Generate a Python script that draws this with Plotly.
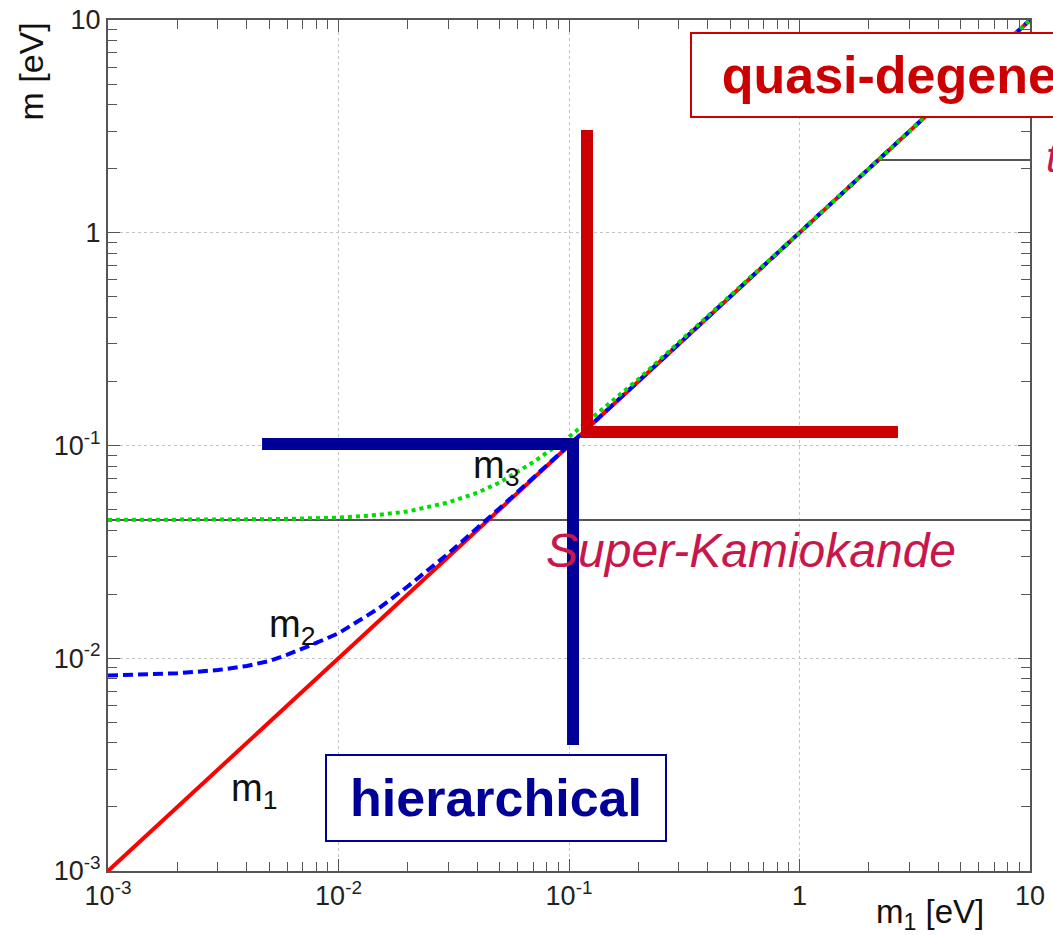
import plotly.graph_objects as go

# Neutrino mass eigenvalues versus the lightest mass m1 (normal ordering)
m1_x = [0.001, 0.01, 0.1, 1.0, 10.0]
m1_y = [0.001, 0.01, 0.1, 1.0, 10.0]

m2_x = [0.001, 0.002, 0.003, 0.004, 0.005, 0.006, 0.008, 0.01, 0.015, 0.02,
        0.03, 0.05, 0.1, 1.0, 10.0]
m2_y = [0.0083, 0.0085, 0.0088, 0.0092, 0.0097, 0.0104, 0.0118, 0.0131, 0.0172,
        0.0218, 0.0311, 0.0507, 0.1003, 1.0, 10.0]

m3_x = [0.001, 0.003, 0.005, 0.01, 0.015, 0.02, 0.03, 0.04, 0.05, 0.07, 0.1,
        0.2, 1.0, 10.0]
m3_y = [0.0447, 0.0448, 0.0450, 0.0458, 0.0472, 0.0490, 0.0540, 0.0600, 0.0670,
        0.0835, 0.1097, 0.2050, 1.0010, 10.0]

# Experimental reference levels [eV]
superk_level = 0.0446
superk_span = [0.001, 10.0]
tritium_level = 2.2
tritium_span = [2.2, 10.0]

# Regime markers (corner brackets)
hier_x = [0.00466, 0.1041, 0.1041]
hier_y = [0.1016, 0.1016, 0.00391]
qd_x = [0.1197, 0.1197, 2.675]
qd_y = [3.04, 0.1157, 0.1157]

decades = [0.001, 0.01, 0.1, 1, 10]
tick_text = ["10<sup>-3</sup>", "10<sup>-2</sup>", "10<sup>-1</sup>", "1", "10"]
minor_vals = [k * d for d in [0.001, 0.01, 0.1, 1] for k in range(2, 10)]

FONT = "Liberation Sans, Arial, sans-serif"
GRAY = "#555555"

fig = go.Figure()

fig.add_trace(go.Scatter(x=superk_span, y=[superk_level] * 2, mode="lines",
                         line=dict(color=GRAY, width=2)))
fig.add_trace(go.Scatter(x=tritium_span, y=[tritium_level] * 2, mode="lines",
                         line=dict(color=GRAY, width=2)))

fig.add_trace(go.Scatter(x=m1_x, y=m1_y, mode="lines",
                         line=dict(color="#ff0000", width=4)))
fig.add_trace(go.Scatter(x=m2_x, y=m2_y, mode="lines",
                         line=dict(color="#0000ff", width=4, dash="10px,5px")))
fig.add_trace(go.Scatter(x=m3_x, y=m3_y, mode="lines",
                         line=dict(color="#00dd00", width=4, dash="4px,4px")))

fig.add_trace(go.Scatter(x=hier_x, y=hier_y, mode="lines",
                         line=dict(color="#000099", width=12)))
fig.add_trace(go.Scatter(x=qd_x, y=qd_y, mode="lines",
                         line=dict(color="#cc0000", width=12)))

axis_common = dict(
    type="log",
    automargin=False,
    tickmode="array",
    tickvals=decades,
    ticktext=tick_text,
    ticks="inside",
    ticklen=12,
    tickcolor=GRAY,
    showline=True,
    linecolor=GRAY,
    linewidth=2,
    mirror="ticks",
    showgrid=True,
    gridcolor="#c4c4c4",
    gridwidth=1,
    griddash="dot",
    zeroline=False,
    tickfont=dict(family=FONT, size=27, color="#222222"),
    minor=dict(tickmode="array", tickvals=minor_vals, ticks="inside",
               ticklen=9, tickcolor=GRAY, showgrid=False),
)

fig.update_xaxes(range=[-3, 1], **axis_common)
fig.update_yaxes(range=[-3, 1], **axis_common)

label_font = dict(family=FONT, size=38, color="#111111")
annotations = [
    dict(text="m<sub>3</sub>", x=0.421, y=0.474, font=label_font),
    dict(text="m<sub>2</sub>", x=0.200, y=0.287, font=label_font),
    dict(text="m<sub>1</sub>", x=0.158, y=0.094, font=label_font),
    dict(text="Super-Kamiokande", x=0.697, y=0.377,
         font=dict(family=FONT, size=48, color="#c8174b", style="italic")),
    dict(text="tritium", x=1.015, y=0.838, xanchor="left",
         font=dict(family=FONT, size=42, color="#c8174b", style="italic")),
    dict(text="<b>hierarchical</b>", x=0.4203, y=0.0852, width=338, height=84,
         bgcolor="white", bordercolor="#000099", borderwidth=2, borderpad=0,
         font=dict(family=FONT, size=52, color="#000099")),
    dict(text="<b>quasi-degenerate</b>", x=0.6312, y=0.9348, xanchor="left",
         width=490, height=82, bgcolor="white", bordercolor="#cc0000",
         borderwidth=2, borderpad=0,
         font=dict(family=FONT, size=52, color="#cc0000")),
    dict(text="m [eV]", x=-0.083, y=0.94, textangle=-90,
         font=dict(family=FONT, size=34, color="#111111")),
    dict(text="m<sub>1</sub> [eV]", x=0.892, y=-0.05,
         font=dict(family=FONT, size=33, color="#111111")),
]
for a in annotations:
    a.setdefault("xref", "paper")
    a.setdefault("yref", "paper")
    a.setdefault("showarrow", False)
    a.setdefault("xanchor", "center")
    a.setdefault("yanchor", "middle")

fig.update_layout(
    width=1053,
    height=935,
    margin=dict(l=108, r=23, t=20, b=64),
    paper_bgcolor="white",
    plot_bgcolor="white",
    showlegend=False,
    annotations=annotations,
)

fig.write_html("out.html")
